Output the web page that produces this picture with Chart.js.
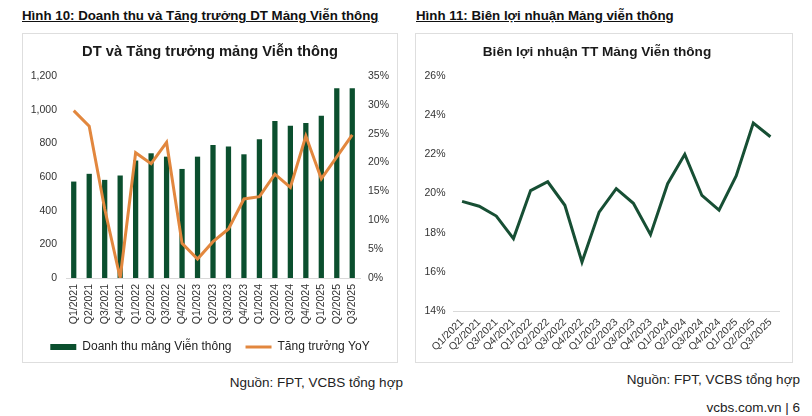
<!DOCTYPE html>
<html lang="vi">
<head>
    <meta charset="UTF-8">
    <title>Mảng Viễn thông</title>
    <script src="https://cdn.jsdelivr.net/npm/chart.js"></script>
    <style>
        body {
            margin: 0;
            width: 812px;
            height: 416px;
            background: #fff;
            font-family: "Liberation Sans", Arial, sans-serif;
            position: relative;
            overflow: hidden;
            color: #111;
        }
        .heading {
            position: absolute;
            top: 8px;
            font-weight: bold;
            font-size: 13.3px;
            text-decoration: underline;
        }
        .box {
            position: absolute;
            top: 33px;
            height: 330px;
            border: 1px solid #dedede;
            box-sizing: border-box;
        }
        .chart-wrap {
            position: absolute;
            top: 33px;
            height: 330px;
        }
        .source {
            position: absolute;
            font-size: 13.5px;
            color: #222;
        }
    </style>
</head>
<body>
    <div class="heading" style="left:22px">Hình 10: Doanh thu và Tăng trưởng DT Mảng Viễn thông</div>
    <div class="heading" style="left:416px">Hình 11: Biên lợi nhuận Mảng viễn thông</div>

    <div class="box" style="left:22px; width:376px"></div>
    <div class="box" style="left:415px; width:378px"></div>

    <div class="chart-wrap" style="left:22px; width:376px"><canvas id="revChart"></canvas></div>
    <div class="chart-wrap" style="left:415px; width:378px"><canvas id="marginChart"></canvas></div>

    <div class="source" style="right:409px; top:375px">Nguồn: FPT, VCBS tổng hợp</div>
    <div class="source" style="right:12px; top:372px">Nguồn: FPT, VCBS tổng hợp</div>
    <div class="source" style="right:12px; top:400px">vcbs.com.vn | 6</div>

    <script>
        const quarters = ['Q1/2021', 'Q2/2021', 'Q3/2021', 'Q4/2021', 'Q1/2022', 'Q2/2022', 'Q3/2022', 'Q4/2022',
            'Q1/2023', 'Q2/2023', 'Q3/2023', 'Q4/2023', 'Q1/2024', 'Q2/2024', 'Q3/2024', 'Q4/2024',
            'Q1/2025', 'Q2/2025', 'Q3/2025'];
        // doanh thu (tỷ đồng) va tang truong YoY (%)
        const doanhThu = [573, 619, 583, 609, 698, 741, 721, 648, 721, 790, 781, 735, 824, 933, 905, 921, 964, 1127, 1127];
        const tangTruong = [29.0, 26.3, 12.0, 0, 21.7, 19.8, 23.5, 6.0, 3.3, 6.3, 8.5, 13.7, 14.1, 18.0, 15.7, 24.6, 17.2, 21.0, 24.8];
        // bien loi nhuan (%)
        const bienLoiNhuan = [19.6, 19.35, 18.85, 17.7, 20.15, 20.6, 19.4, 16.5, 19.05, 20.25, 19.5, 17.9, 20.5, 22.0, 19.9, 19.15, 20.9, 23.6, 22.9];

        Chart.defaults.font.family = '"Liberation Sans", Arial, sans-serif';
        Chart.defaults.color = '#333';
        Chart.defaults.animation = false;

        const green = '#0b4f2e';
        const orange = '#e2873e';
        const axisLine = '#d9d9d9';
        const noGrid = { display: false, drawTicks: false };

        new Chart(document.getElementById('revChart'), {
            type: 'bar',
            data: {
                labels: quarters,
                datasets: [{
                    label: 'Doanh thu mảng Viễn thông',
                    data: doanhThu,
                    backgroundColor: green,
                    barPercentage: 0.34,
                    categoryPercentage: 1,
                    pointStyle: 'rect',
                    yAxisID: 'y',
                    order: 1
                }, {
                    type: 'line',
                    label: 'Tăng trưởng YoY',
                    data: tangTruong,
                    borderColor: orange,
                    backgroundColor: orange,
                    borderWidth: 3,
                    pointRadius: 0,
                    tension: 0,
                    pointStyle: 'line',
                    yAxisID: 'y1',
                    order: 0
                }]
            },
            options: {
                responsive: true,
                maintainAspectRatio: false,
                layout: { padding: { bottom: 0 } },
                plugins: {
                    title: {
                        display: true,
                        text: 'DT và Tăng trưởng mảng Viễn thông',
                        font: { size: 14.7, weight: 'bold' },
                        color: '#1a1a1a',
                        padding: { top: 10, bottom: 15.4 }
                    },
                    legend: {
                        position: 'bottom',
                        labels: {
                            usePointStyle: true,
                            pointStyleWidth: 26,
                            boxHeight: 6,
                            padding: 14,
                            font: { size: 12 },
                            color: '#222',
                            sort: (a, b) => a.datasetIndex - b.datasetIndex
                        }
                    },
                    tooltip: { enabled: false }
                },
                scales: {
                    x: {
                        grid: noGrid,
                        border: { color: axisLine },
                        ticks: { minRotation: 90, maxRotation: 90, padding: 6, font: { size: 10.5 }, autoSkip: false },
                        afterFit: s => { s.height = 49; }
                    },
                    y: {
                        position: 'left',
                        min: 0,
                        max: 1200,
                        ticks: { stepSize: 200, padding: 9, font: { size: 10.5 } },
                        grid: noGrid,
                        border: { display: false },
                        afterFit: s => { s.width = 44; }
                    },
                    y1: {
                        position: 'right',
                        min: 0,
                        max: 35,
                        ticks: { stepSize: 5, padding: 8, font: { size: 10.5 }, callback: v => v + '%' },
                        grid: noGrid,
                        border: { display: false },
                        afterFit: s => { s.width = 38; }
                    }
                }
            }
        });

        new Chart(document.getElementById('marginChart'), {
            type: 'line',
            data: {
                labels: quarters,
                datasets: [{
                    label: 'Biên lợi nhuận',
                    data: bienLoiNhuan,
                    borderColor: '#174f34',
                    borderWidth: 3,
                    pointRadius: 0,
                    tension: 0
                }]
            },
            options: {
                responsive: true,
                maintainAspectRatio: false,
                layout: { padding: { right: 14, bottom: 0 } },
                plugins: {
                    title: {
                        display: true,
                        text: 'Biên lợi nhuận TT Mảng Viễn thông',
                        font: { size: 13.6, weight: 'bold' },
                        color: '#1a1a1a',
                        padding: { top: 10.8, bottom: 15.9 }
                    },
                    legend: { display: false },
                    tooltip: { enabled: false }
                },
                scales: {
                    x: {
                        offset: true,
                        grid: noGrid,
                        border: { color: axisLine },
                        ticks: { minRotation: 45, maxRotation: 45, padding: 5, font: { size: 10.5 }, autoSkip: false },
                        afterFit: s => { s.height = 52; }
                    },
                    y: {
                        min: 14,
                        max: 26,
                        ticks: { stepSize: 2, padding: 8, font: { size: 10.5 }, callback: v => v + '%' },
                        grid: noGrid,
                        border: { display: false },
                        afterFit: s => { s.width = 38.5; }
                    }
                }
            }
        });
    </script>
</body>
</html>
